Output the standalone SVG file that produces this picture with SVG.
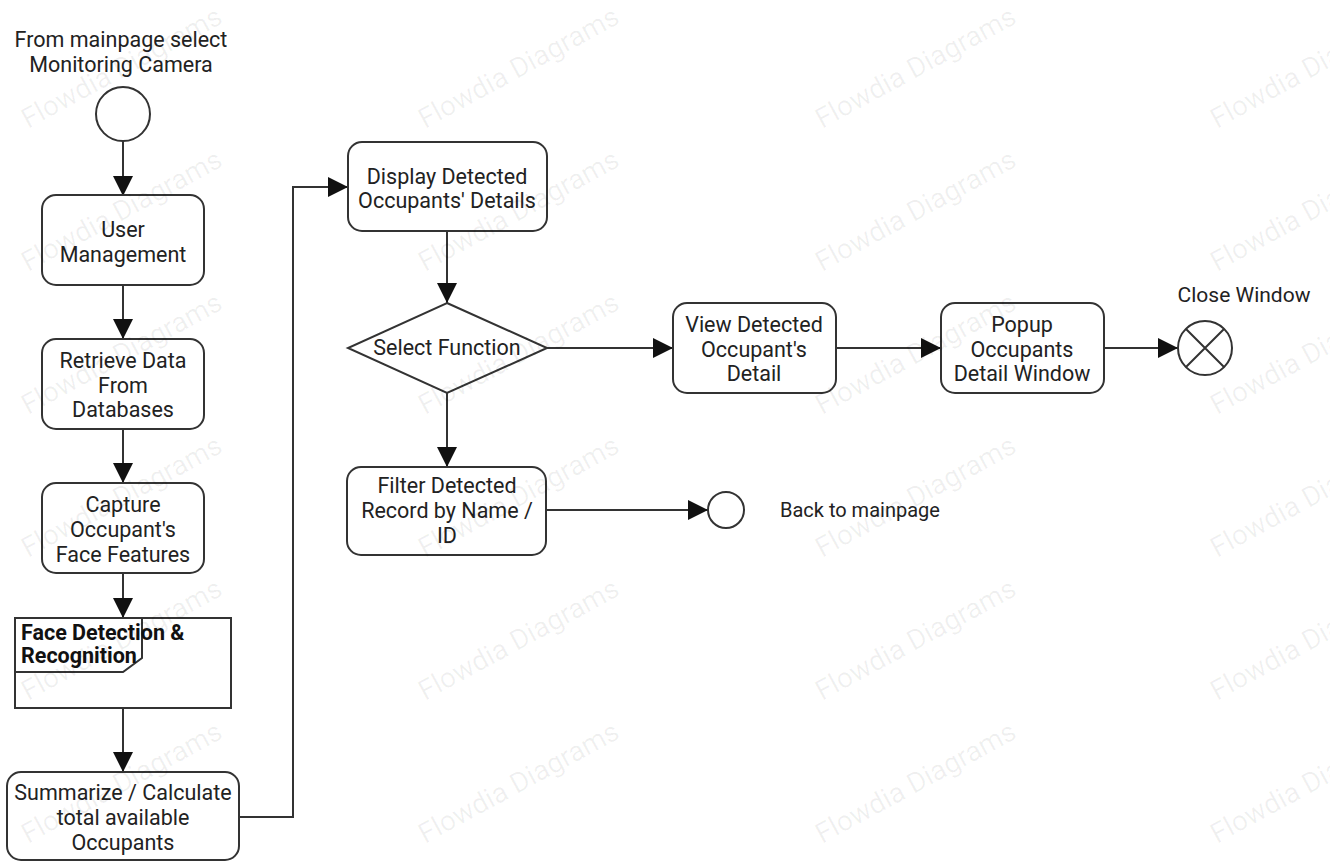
<svg xmlns="http://www.w3.org/2000/svg" width="1330" height="861" viewBox="0 0 1330 861">
  <style>
    .box { fill: #ffffff; stroke: #333333; stroke-width: 2; }
    .line { fill: none; stroke: #333333; stroke-width: 2; }
    .lbl { font-family: Roboto, "Liberation Sans", sans-serif; font-size: 21.5px; fill: #222222; text-anchor: middle; }
    .lbl-left { font-family: Roboto, "Liberation Sans", sans-serif; font-size: 20px; fill: #222222; }
    .bold { font-family: Roboto, "Liberation Sans", sans-serif; font-size: 21.5px; font-weight: bold; fill: #111111; }
    .wm { font-family: Roboto, "Liberation Sans", sans-serif; font-size: 28px; fill: #000000; fill-opacity: 0.06; }
  </style>
  <defs>
    <marker id="arrow" markerUnits="userSpaceOnUse" markerWidth="20" markerHeight="20" refX="20" refY="10" orient="auto">
      <path d="M0,0 L20,10 L0,20 Z" fill="#111111"/>
    </marker>
  </defs>
  <rect width="1330" height="861" fill="#ffffff"/>

  <!-- connectors -->
  <g id="connectors">
    <path class="line" d="M123,141 V196" marker-end="url(#arrow)"/>
    <path class="line" d="M123,285 V339" marker-end="url(#arrow)"/>
    <path class="line" d="M123,429 V483" marker-end="url(#arrow)"/>
    <path class="line" d="M123,573 V618" marker-end="url(#arrow)"/>
    <path class="line" d="M123,708 V772" marker-end="url(#arrow)"/>
    <path class="line" d="M239,817 H293 V187 H348" marker-end="url(#arrow)"/>
    <path class="line" d="M447,231 V303" marker-end="url(#arrow)"/>
    <path class="line" d="M447,393 V467" marker-end="url(#arrow)"/>
    <path class="line" d="M547,348 H673" marker-end="url(#arrow)"/>
    <path class="line" d="M836,348 H941" marker-end="url(#arrow)"/>
    <path class="line" d="M1104,348 H1178" marker-end="url(#arrow)"/>
    <path class="line" d="M546,510 H708" marker-end="url(#arrow)"/>
  </g>

  <!-- start -->
  <g id="start">
    <text class="lbl" x="121" y="47">From mainpage select</text>
    <text class="lbl" x="121" y="72">Monitoring Camera</text>
    <circle class="box" cx="123" cy="114" r="27"/>
  </g>

  <g id="user-management">
    <rect class="box" x="42" y="195" width="162" height="90" rx="14"/>
    <text class="lbl" x="123" y="237">User</text>
    <text class="lbl" x="123" y="262">Management</text>
  </g>

  <g id="retrieve-data">
    <rect class="box" x="42" y="339" width="162" height="90" rx="14"/>
    <text class="lbl" x="123" y="368">Retrieve Data</text>
    <text class="lbl" x="123" y="393">From</text>
    <text class="lbl" x="123" y="417">Databases</text>
  </g>

  <g id="capture-face">
    <rect class="box" x="42" y="483" width="162" height="90" rx="14"/>
    <text class="lbl" x="123" y="512">Capture</text>
    <text class="lbl" x="123" y="537">Occupant's</text>
    <text class="lbl" x="123" y="562">Face Features</text>
  </g>

  <!-- sub-process frame -->
  <g id="face-detection">
    <rect class="box" x="15" y="618" width="216" height="90"/>
    <path class="line" d="M142,618 V658 L123,672 H15"/>
    <text class="bold" x="21" y="640">Face Detection &amp;</text>
    <text class="bold" x="21" y="663">Recognition</text>
  </g>

  <g id="summarize">
    <rect class="box" x="7" y="772" width="232" height="88" rx="14"/>
    <text class="lbl" x="123" y="800">Summarize / Calculate</text>
    <text class="lbl" x="123" y="825">total available</text>
    <text class="lbl" x="123" y="850">Occupants</text>
  </g>

  <g id="display-details">
    <rect class="box" x="348" y="142" width="199" height="89" rx="14"/>
    <text class="lbl" x="447" y="184">Display Detected</text>
    <text class="lbl" x="447" y="208">Occupants' Details</text>
  </g>

  <g id="select-function">
    <path class="box" d="M447,303 L547,348 L447,393 L348,348 Z"/>
    <text class="lbl" x="447" y="355">Select Function</text>
  </g>

  <g id="filter-record">
    <rect class="box" x="347" y="467" width="199" height="88" rx="14"/>
    <text class="lbl" x="447" y="493">Filter Detected</text>
    <text class="lbl" x="447" y="518">Record by Name /</text>
    <text class="lbl" x="447" y="543">ID</text>
  </g>

  <g id="back-to-mainpage">
    <circle class="box" cx="726" cy="510" r="18"/>
    <text class="lbl-left" x="780" y="517">Back to mainpage</text>
  </g>

  <g id="view-detail">
    <rect class="box" x="673" y="303" width="163" height="90" rx="14"/>
    <text class="lbl" x="754" y="332">View Detected</text>
    <text class="lbl" x="754" y="357">Occupant's</text>
    <text class="lbl" x="754" y="381">Detail</text>
  </g>

  <g id="popup-window">
    <rect class="box" x="941" y="303" width="163" height="90" rx="14"/>
    <text class="lbl" x="1022" y="332">Popup</text>
    <text class="lbl" x="1022" y="357">Occupants</text>
    <text class="lbl" x="1022" y="381">Detail Window</text>
  </g>

  <g id="close-window">
    <text class="lbl" x="1244" y="302" style="font-size:21px">Close Window</text>
    <circle class="box" cx="1205" cy="348" r="27"/>
    <path class="line" d="M1186,329 L1224,367 M1224,329 L1186,367"/>
  </g>

  <!-- watermark grid -->
  <g id="watermark">
    <text class="wm" transform="translate(28,129) rotate(-28.5)">Flowdia Diagrams</text>
    <text class="wm" transform="translate(28,272) rotate(-28.5)">Flowdia Diagrams</text>
    <text class="wm" transform="translate(28,415) rotate(-28.5)">Flowdia Diagrams</text>
    <text class="wm" transform="translate(28,558) rotate(-28.5)">Flowdia Diagrams</text>
    <text class="wm" transform="translate(28,701) rotate(-28.5)">Flowdia Diagrams</text>
    <text class="wm" transform="translate(28,844) rotate(-28.5)">Flowdia Diagrams</text>
    <text class="wm" transform="translate(425,129) rotate(-28.5)">Flowdia Diagrams</text>
    <text class="wm" transform="translate(425,272) rotate(-28.5)">Flowdia Diagrams</text>
    <text class="wm" transform="translate(425,415) rotate(-28.5)">Flowdia Diagrams</text>
    <text class="wm" transform="translate(425,558) rotate(-28.5)">Flowdia Diagrams</text>
    <text class="wm" transform="translate(425,701) rotate(-28.5)">Flowdia Diagrams</text>
    <text class="wm" transform="translate(425,844) rotate(-28.5)">Flowdia Diagrams</text>
    <text class="wm" transform="translate(822,129) rotate(-28.5)">Flowdia Diagrams</text>
    <text class="wm" transform="translate(822,272) rotate(-28.5)">Flowdia Diagrams</text>
    <text class="wm" transform="translate(822,415) rotate(-28.5)">Flowdia Diagrams</text>
    <text class="wm" transform="translate(822,558) rotate(-28.5)">Flowdia Diagrams</text>
    <text class="wm" transform="translate(822,701) rotate(-28.5)">Flowdia Diagrams</text>
    <text class="wm" transform="translate(822,844) rotate(-28.5)">Flowdia Diagrams</text>
    <text class="wm" transform="translate(1217,129) rotate(-28.5)">Flowdia Diagrams</text>
    <text class="wm" transform="translate(1217,272) rotate(-28.5)">Flowdia Diagrams</text>
    <text class="wm" transform="translate(1217,415) rotate(-28.5)">Flowdia Diagrams</text>
    <text class="wm" transform="translate(1217,558) rotate(-28.5)">Flowdia Diagrams</text>
    <text class="wm" transform="translate(1217,701) rotate(-28.5)">Flowdia Diagrams</text>
    <text class="wm" transform="translate(1217,844) rotate(-28.5)">Flowdia Diagrams</text>
  </g>
</svg>
